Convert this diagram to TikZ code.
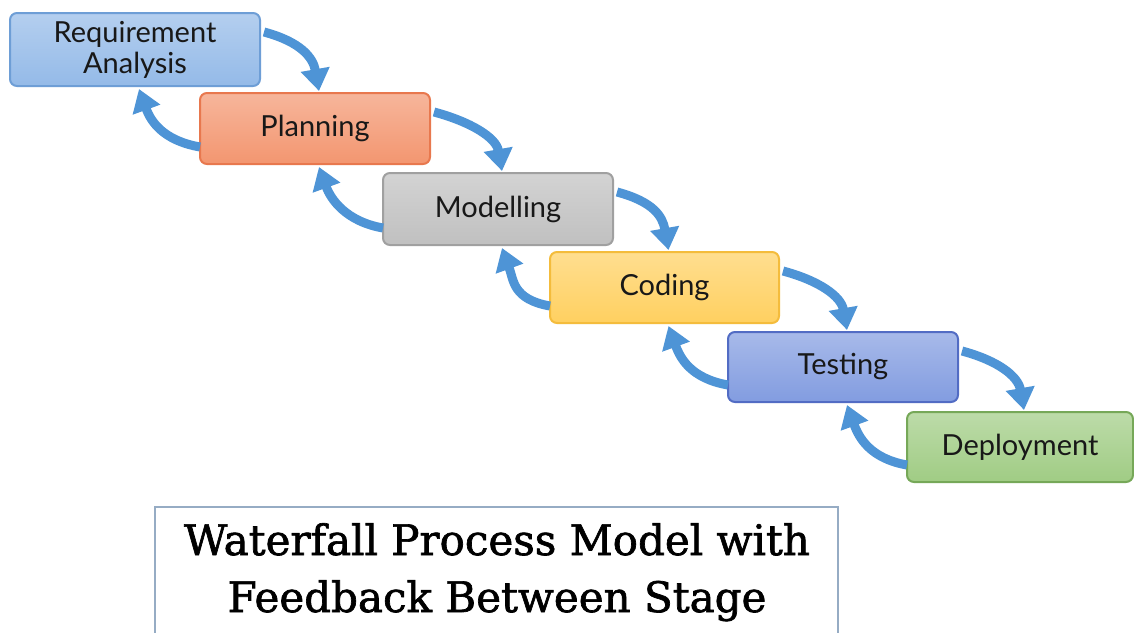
\documentclass[tikz,border=0pt]{standalone}
\usepackage{fontspec}
\setmainfont{Lato}
\newfontfamily\titlefont[FakeBold=1.6]{DejaVu Serif}
\usetikzlibrary{arrows.meta}

\definecolor{flowblue}{RGB}{78,148,214}
\definecolor{reqfill}{RGB}{148,186,232}
\definecolor{reqline}{RGB}{110,158,214}
\definecolor{planfill}{RGB}{243,150,112}
\definecolor{planline}{RGB}{232,120,78}
\definecolor{modfill}{RGB}{192,192,192}
\definecolor{modline}{RGB}{160,160,160}
\definecolor{codfill}{RGB}{255,208,96}
\definecolor{codline}{RGB}{244,188,60}
\definecolor{tstfill}{RGB}{130,156,224}
\definecolor{tstline}{RGB}{82,108,196}
\definecolor{depfill}{RGB}{160,204,132}
\definecolor{depline}{RGB}{118,168,88}
\definecolor{titleline}{RGB}{150,172,196}
\definecolor{inktext}{RGB}{24,24,24}

\tikzset{
  x=1pt, y=1pt,
  stage/.style 2 args={draw=#2, fill=#1, line width=2pt, rounded corners=7pt,
    top color=#1!70!white, bottom color=#1, minimum width=230pt,
    minimum height=71pt, align=center, text=inktext,
    font=\fontsize{29}{31}\selectfont, inner sep=0pt},
  flow/.style={draw=flowblue, line width=9pt,
    -{Triangle[width=28pt,length=22pt]}},
  ahead/.style={flow, to path={.. controls +(-15:38) and +(100:34) .. (\tikztotarget)}},
  aback/.style={flow, to path={.. controls +(170:38) and +(-70:34) .. (\tikztotarget)}}
}

\begin{document}
\begin{tikzpicture}
\useasboundingbox (0,0) rectangle (1134,-632);
\fill[white] (0,0) rectangle (1134,-632);

% the six stages, stepping down to the right
\node[stage={reqfill}{reqline}, minimum width=250pt, minimum height=73pt]
  (req) at (135,-49.5) {Requirement\\Analysis};
\node[stage={planfill}{planline}] (plan) at (315,-128.5) {Planning};
\node[stage={modfill}{modline}, minimum height=72pt] (mod) at (498,-209) {Modelling};
\node[stage={codfill}{codline}, minimum width=229pt] (cod) at (664.5,-287.5) {Coding};
\node[stage={tstfill}{tstline}, minimum height=70pt] (tst) at (843,-367) {Testing};
\node[stage={depfill}{depline}, minimum width=226pt, minimum height=70pt]
  (dep) at (1020,-447) {Deployment};

% forward flow: from the right side of a stage down onto the next one
\foreach \a/\b in {req/plan, plan/mod, mod/cod, cod/tst, tst/dep}{
  \draw[ahead] ([xshift=3pt,yshift=-20pt]\a.north east) to ([xshift=4pt,yshift=1pt]\b.north);
}
% feedback: from the left side of a stage back up to the previous one
\foreach \a/\b in {req/plan, plan/mod, mod/cod, cod/tst, tst/dep}{
  \draw[aback] ([xshift=1pt,yshift=18pt]\b.south west) to ([xshift=4pt,yshift=-2pt]\a.south);
}

% caption panel, open at the lower edge
\coordinate (tl) at (155,-507);
\coordinate (tr) at (838,-507);
\draw[titleline, line width=1.5pt] (155,-634) -- (tl) -- (tr) -- (838,-634);
\node[font=\titlefont\fontsize{42}{57}\selectfont, text=black, align=center,
  anchor=base] (title) at (497,-612) {Waterfall Process Model with\\Feedback Between Stage};
\end{tikzpicture}
\end{document}
